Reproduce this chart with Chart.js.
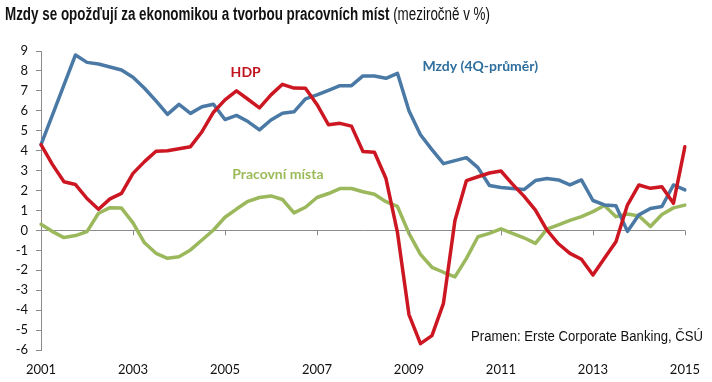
<!DOCTYPE html>
<html>
<head>
<meta charset="utf-8">
<script src="https://cdn.jsdelivr.net/npm/chart.js@4"></script>
<style>
  html, body { margin: 0; padding: 0; background: #fff; }
  #wrap { position: relative; width: 712px; height: 382px; overflow: hidden; }
  #c { position: absolute; left: 0; top: 0; }
  .txt { position: absolute; white-space: nowrap; font-family: "Liberation Sans", Arial, sans-serif; color: #111; }
  #title { left: 5px; top: 5px; font-size: 18px; line-height: 18px; transform-origin: left top; }
  #title b { font-weight: bold; }
  #source { top: 328px; font-size: 14px; line-height: 16px; transform-origin: left top; }
</style>
</head>
<body>
<div id="wrap">
  <canvas id="c" width="712" height="382"></canvas>
  <div id="title" class="txt"><b>Mzdy se opožďují za ekonomikou a tvorbou pracovních míst</b> (meziročně v %)</div>
  <div id="source" class="txt">Pramen: Erste Corporate Banking, ČSÚ</div>
</div>
<script>
/* =========================
   DATA (quarterly, 2001Q1 – 2015Q1)
   ========================= */
const years = [2001, 2002, 2003, 2004, 2005, 2006, 2007, 2008, 2009, 2010, 2011, 2012, 2013, 2014, 2015];
const yearTicks = ["2001", "2003", "2005", "2007", "2009", "2011", "2013", "2015"];

const mzdy = [
  4.3, 5.8, 7.3, 8.8, 8.43, 8.35, 8.2, 8.05,
  7.68, 7.13, 6.5, 5.82, 6.32, 5.87, 6.2, 6.33,
  5.56, 5.77, 5.46, 5.04, 5.54, 5.88, 5.95, 6.6,
  6.8, 7.03, 7.26, 7.26, 7.75, 7.75, 7.63, 7.88,
  6.0, 4.8, 4.05, 3.35, 3.5, 3.65, 3.15, 2.25,
  2.15, 2.1, 2.05, 2.5, 2.6, 2.53, 2.28, 2.53,
  1.5, 1.28, 1.24, -0.05, 0.78, 1.1, 1.2, 2.28,
  2.03
];

const hdp = [
  4.3, 3.3, 2.44, 2.3, 1.6, 1.06, 1.58, 1.86,
  2.86, 3.45, 3.97, 4.0, 4.1, 4.2, 4.95, 5.93,
  6.55, 7.0, 6.58, 6.15, 6.8, 7.33, 7.14, 7.13,
  6.32, 5.3, 5.37, 5.23, 3.96, 3.92, 2.6, -0.1,
  -4.22, -5.68, -5.28, -3.66, 0.5, 2.5, 2.69, 2.88,
  2.98, 2.32, 1.72, 1.02, 0.02, -0.67, -1.15, -1.45,
  -2.24, -1.4, -0.57, 1.27, 2.28, 2.11, 2.19, 1.36,
  4.2
];

const mista = [
  0.31, -0.06, -0.36, -0.26, -0.06, 0.86, 1.14, 1.12,
  0.38, -0.62, -1.15, -1.4, -1.32, -0.98, -0.48, 0.02,
  0.66, 1.07, 1.46, 1.65, 1.73, 1.55, 0.88, 1.16,
  1.65, 1.85, 2.1, 2.1, 1.94, 1.81, 1.44, 1.2,
  -0.15, -1.2, -1.85, -2.1, -2.33, -1.4, -0.32, -0.15,
  0.08, -0.15, -0.37, -0.65, 0.06, 0.28, 0.5, 0.69,
  0.94, 1.25, 0.69, 0.82, 0.72, 0.2, 0.8, 1.13,
  1.27
];

// quarterly categories: 2001 Q1 ... 2015 Q1
const categories = [];
years.forEach(y => {
  for (let q = 1; q <= 4; q++) {
    if (y === 2015 && q > 1) break;
    categories.push(y + " Q" + q);
  }
});

/* =========================
   COLOURS / LABELS
   ========================= */
const BLUE = "#4A79A5";
const RED = "#CC1722";
const GREEN = "#9BB85C";
const AXIS = "#8C8C8C";

const seriesLabels = [
  { text: "HDP", color: "#C0141E", i: 17.8, v: 7.9 },
  { text: "Mzdy (4Q-průměr)", color: "#2F6F9E", i: 38.2, v: 8.2 },
  { text: "Pracovní místa", color: "#9BBB59", i: 20.6, v: 2.83 }
];

/* =========================
   PLUGINS
   ========================= */
const zeroTicks = {
  id: "zeroTicks",
  afterDatasetsDraw(chart) {
    const { ctx, scales: { x, y } } = chart;
    const y0 = y.getPixelForValue(0);
    ctx.save();
    ctx.strokeStyle = AXIS;
    ctx.lineWidth = 1;
    for (let i = 8; i < categories.length; i += 8) {
      const px = Math.round(x.getPixelForValue(i)) + 0.5;
      ctx.beginPath();
      ctx.moveTo(px, y0);
      ctx.lineTo(px, y0 + 5);
      ctx.stroke();
    }
    ctx.restore();
  }
};

const lineLabels = {
  id: "lineLabels",
  afterDatasetsDraw(chart) {
    const { ctx, scales: { x, y } } = chart;
    ctx.save();
    ctx.font = "bold 14px Lato, 'Open Sans', sans-serif";
    ctx.textAlign = "center";
    ctx.textBaseline = "middle";
    seriesLabels.forEach(l => {
      ctx.fillStyle = l.color;
      ctx.fillText(l.text, x.getPixelForValue(l.i), y.getPixelForValue(l.v));
    });
    ctx.restore();
  }
};

/* =========================
   CHART
   ========================= */
const line = (data, color, order) => ({
  data,
  borderColor: color,
  borderWidth: 3.5,
  pointRadius: 0,
  tension: 0,
  fill: false,
  order,
  borderJoinStyle: "round",
  borderCapStyle: "round"
});

new Chart(document.getElementById("c"), {
  type: "line",
  data: {
    labels: categories,
    datasets: [
      line(hdp, RED, 0),
      line(mzdy, BLUE, 1),
      line(mista, GREEN, 2)
    ]
  },
  options: {
    responsive: false,
    animation: false,
    devicePixelRatio: 1,
    layout: { padding: { top: 51, right: 20.5, left: 0, bottom: 0 } },
    plugins: { legend: { display: false }, tooltip: { enabled: false } },
    scales: {
      x: {
        offset: false,
        grid: { display: false, drawTicks: false },
        border: { display: false },
        afterFit: s => { s.height = 32; },
        ticks: {
          autoSkip: false,
          maxRotation: 0,
          padding: 12,
          color: "#111",
          font: { family: "Lato, 'Open Sans', sans-serif", size: 13 },
          callback: (v, i) => (i % 8 === 0 ? yearTicks[i / 8] : "")
        }
      },
      y: {
        min: -6,
        max: 9,
        afterFit: s => { s.width = 41; },
        grid: {
          color: c => (c.tick && c.tick.value === 0 ? AXIS : "transparent"),
          tickColor: AXIS,
          tickLength: 5,
          lineWidth: 1
        },
        border: { display: true, color: AXIS, width: 1 },
        ticks: {
          stepSize: 1,
          padding: 8,
          color: "#111",
          font: { family: "Lato, 'Open Sans', sans-serif", size: 13 }
        }
      }
    }
  },
  plugins: [zeroTicks, lineLabels]
});

/* =========================
   TITLE / SOURCE WIDTH FIT
   ========================= */
function fit(el, width) {
  const w = el.getBoundingClientRect().width;
  el.style.transform = "scaleX(" + (width / w) + ")";
}
const title = document.getElementById("title");
fit(title, 485);
const src = document.getElementById("source");
fit(src, 232);
src.style.left = (703 - 232) + "px";
</script>
</body>
</html>
